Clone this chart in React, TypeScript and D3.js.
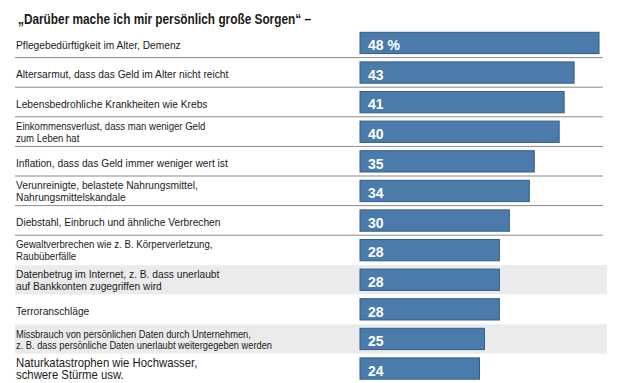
import React from "react";
import * as d3 from "d3";

const W = 621;
const H = 383;

const TITLE = "„Darüber mache ich mir persönlich große Sorgen“ –";

const categories = [
  "Pflegebedürftigkeit im Alter, Demenz",
  "Altersarmut, dass das Geld im Alter nicht reicht",
  "Lebensbedrohliche Krankheiten wie Krebs",
  "Einkommensverlust, dass man weniger Geld\nzum Leben hat",
  "Inflation, dass das Geld immer weniger wert ist",
  "Verunreinigte, belastete Nahrungsmittel,\nNahrungsmittelskandale",
  "Diebstahl, Einbruch und ähnliche Verbrechen",
  "Gewaltverbrechen wie z. B. Körperverletzung,\nRaubüberfälle",
  "Datenbetrug im Internet, z. B. dass unerlaubt\nauf Bankkonten zugegriffen wird",
  "Terroranschläge",
  "Missbrauch von persönlichen Daten durch Unternehmen,\nz. B. dass persönliche Daten unerlaubt weitergegeben werden",
  "Naturkatastrophen wie Hochwasser,\nschwere Stürme usw.",
];

const values = [48, 43, 41, 40, 35, 34, 30, 28, 28, 28, 25, 24];

const valueLabels = ["48 %", "43", "41", "40", "35", "34", "30", "28", "28", "28", "25", "24"];

const shadedRows = [8, 10];

const FONT = "'Liberation Sans', Arial, sans-serif";
const SX = 0.93;

// per-row label font size / line height / first baseline offset
function labelStyle(i: number) {
  if (i === 10) return { fs: 10, lh: 10.8, b: 9.5 };
  if (i === 11) return { fs: 12.2, lh: 12.5, b: 9 };
  if (i === 3) return { fs: 10.3, lh: 12, b: 9 };
  if (i === 7) return { fs: 10.4, lh: 12, b: 8.5 };
  return { fs: 11, lh: 12, b: 9 };
}

export default function App() {
  const x = d3.scaleLinear().domain([0, 48]).range([360, 599]);
  const y = d3
    .scaleBand<number>()
    .domain(d3.range(categories.length))
    .range([28.15, 28.15 + 12 * 29.6])
    .paddingInner(0.28)
    .paddingOuter(0.14);
  const bw = y.bandwidth();

  return (
    <svg
      width={W}
      height={H}
      style={{ position: "absolute", left: 0, top: 0, background: "#fff" }}
      fontFamily={FONT}
    >
      <text
        x={18}
        y={24}
        fontSize={14.5}
        fontWeight={700}
        fill="#1a1a1a"
        textLength={293}
        lengthAdjust="spacingAndGlyphs"
      >
        {TITLE}
      </text>
      {shadedRows.map((i) => (
        <rect key={"s" + i} x={15} y={(y(i) as number) - 4} width={592} height={bw + 8} fill="#ebebeb" />
      ))}
      {categories.map((c, i) =>
        i < 7 ? (
          <line
            key={"l" + i}
            x1={15}
            x2={603}
            y1={(y(i) as number) + bw + 4}
            y2={(y(i) as number) + bw + 4}
            stroke="#8a8a8a"
            strokeWidth={1}
          />
        ) : null
      )}
      <g transform={`scale(${SX},1)`}>
        {categories.map((c, i) => {
          const top = y(i) as number;
          const lines = c.split("\n");
          const st = labelStyle(i);
          const tx = 16 / SX;
          return (
            <text key={"t" + i} x={tx} fontSize={st.fs} fill="#1a1a1a">
              {lines.length === 1 ? (
                <tspan x={tx} y={top + 16.5}>
                  {lines[0]}
                </tspan>
              ) : (
                lines.map((ln, k) => (
                  <tspan key={k} x={tx} y={top + st.b + k * st.lh}>
                    {ln}
                  </tspan>
                ))
              )}
            </text>
          );
        })}
      </g>
      {values.map((v, i) => (
        <rect
          key={"b" + i}
          x={x(0)}
          y={y(i) as number}
          width={x(v) - x(0)}
          height={bw}
          fill="#4a7bab"
          stroke="#2f5f8c"
          strokeWidth={1}
        />
      ))}
      {valueLabels.map((t, i) => (
        <text
          key={"v" + i}
          x={368}
          y={(y(i) as number) + 18}
          fontSize={14}
          fontWeight={700}
          fill="#fff"
        >
          {t}
        </text>
      ))}
    </svg>
  );
}
